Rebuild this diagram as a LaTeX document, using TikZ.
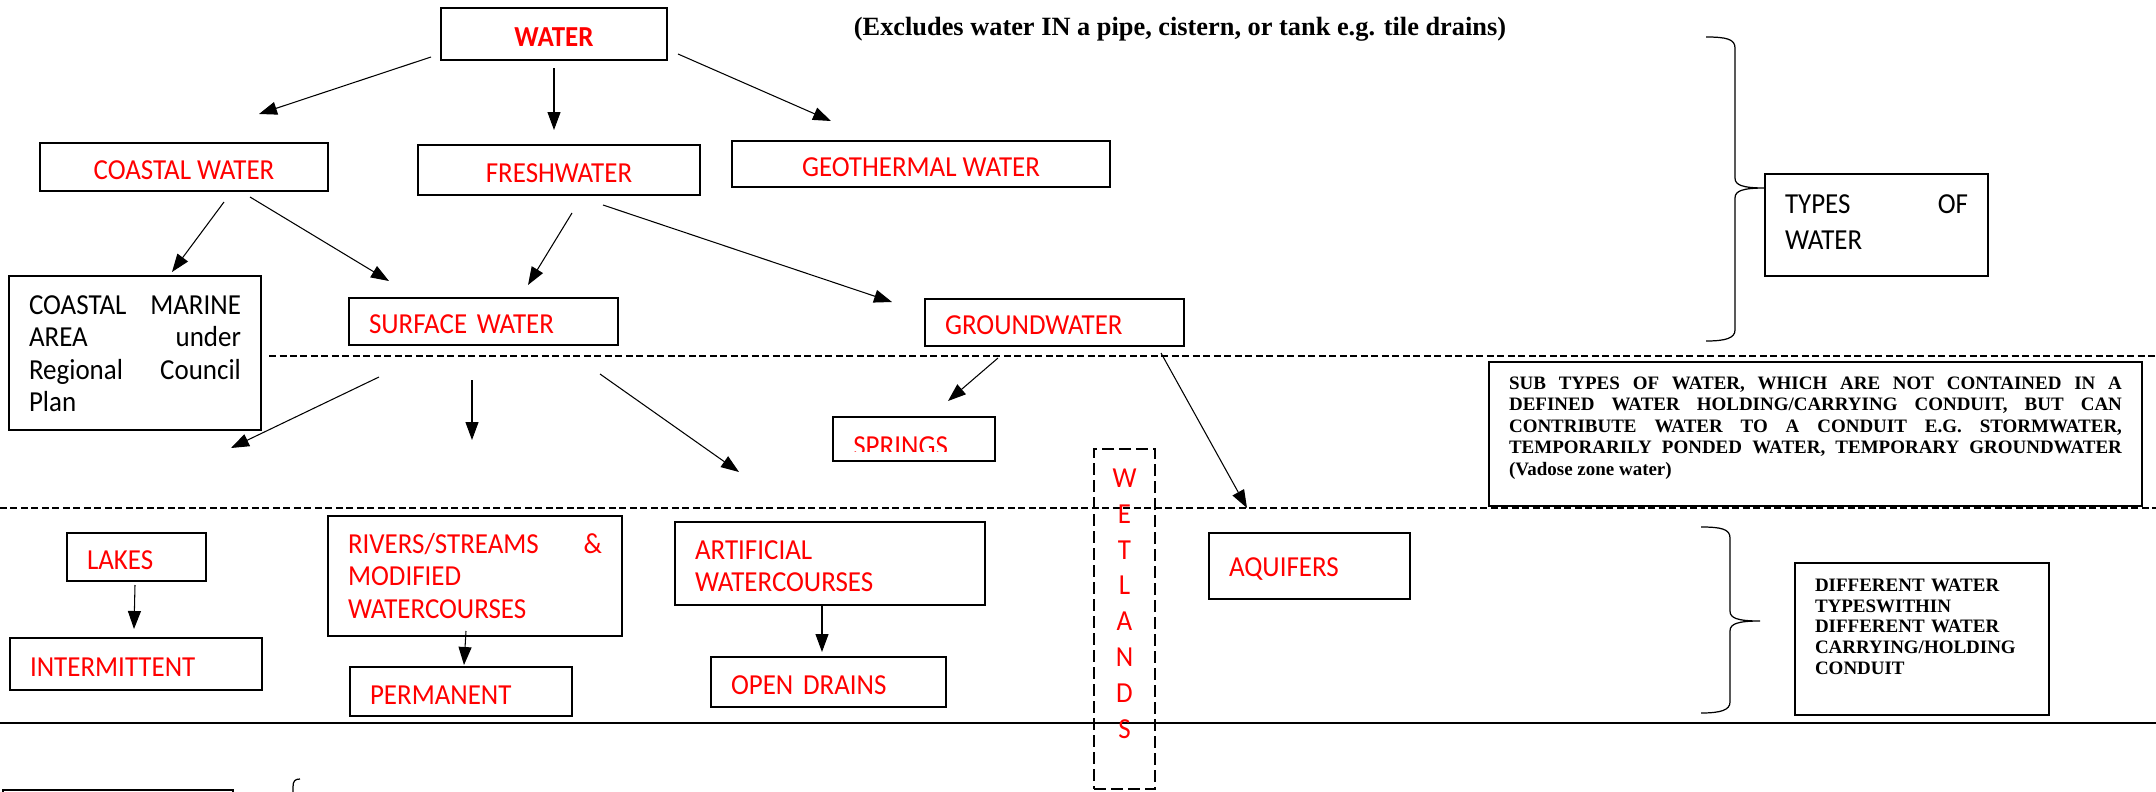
\documentclass[tikz,border=0pt]{standalone}
\usepackage{fontspec}
\setmainfont{Carlito}[FakeStretch=0.93]
\newfontfamily\notefont{Liberation Serif}
\usepackage{tikz}
\usetikzlibrary{arrows.meta}
\newcommand{\wfill}{\hspace{0pt plus 1filll}}
\tolerance=10000
\hyphenpenalty=10000

\begin{document}
\begin{tikzpicture}[
    x=0.02cm, y=-0.02cm,
    box/.style={rectangle, draw, line width=0.9pt, inner xsep=0.4cm, inner ysep=0pt,
                text=red, align=left, text height=0.5cm,
                font=\fontsize{16.5}{18.5}\selectfont},
    notebox/.style={rectangle, draw, line width=0.9pt, inner xsep=0.4cm, inner ysep=0pt,
                align=justify, font=\notefont\bfseries\fontsize{10.8}{12.2}\selectfont},
    arr/.style={-{Triangle[length=0.36cm, width=0.26cm]}, line width=0.6pt},
    sep/.style={dash pattern=on 0.14cm off 0.07cm, line width=0.6pt},
    curly/.style={line width=0.7pt},
]
    \useasboundingbox (0,0) rectangle (2156,791);
    \clip (0,0) rectangle (2156,791);

    % separators
    \draw[sep] (269,356) -- (2156,356);
    \draw[sep] (0,508) -- (2156,508);
    \draw[line width=0.8pt] (0,723) -- (2156,723);

    % types of water
    \node[box, font=\bfseries\fontsize{16.5}{18.5}\selectfont, align=center,
          minimum width=4.52cm, minimum height=1.04cm] (water) at (554,34) {WATER};
    \node[anchor=base, font=\notefont\bfseries\fontsize{15}{18}\selectfont] (excl) at (1180,35)
        {(Excludes water IN a pipe, cistern, or tank e.g. tile drains)};
    \node[box, align=center, minimum width=5.76cm, minimum height=0.96cm] (coastal) at (184,167) {COASTAL WATER};
    \node[box, align=center, minimum width=5.64cm, minimum height=1.0cm] (fresh) at (559,170) {FRESHWATER};
    \node[box, align=center, minimum width=7.56cm, minimum height=0.92cm] (geo) at (921,164) {GEOTHERMAL WATER};

    \node[box, text=black, text width=4.24cm, minimum width=5.04cm, text height=0.767cm, text depth=2.313cm] (marine) at (135,353)
        {COASTAL\wfill MARINE\\ AREA\wfill under\\ Regional\wfill Council\\ Plan};
    \node[box, text width=4.58cm, minimum width=5.38cm, minimum height=0.94cm] (surface) at (483.5,321.5) {SURFACE WATER};
    \node[box, text width=4.38cm, minimum width=5.18cm, minimum height=0.94cm] (ground) at (1054.5,322.5) {GROUNDWATER};

    \node[box, text=black, font=\fontsize{16.5}{20.4}\selectfont, text width=3.66cm,
          minimum width=4.46cm, text height=0.787cm, text depth=1.253cm] (types) at (1876.5,225) {TYPES\wfill OF\\ WATER};
    \draw[curly] (1706,37) .. controls (1726,37) and (1735,39) .. (1735,48) -- (1735,178)
        .. controls (1735,185) and (1742,188) .. (1765,188)
        .. controls (1742,188) and (1735,191) .. (1735,198) -- (1735,330)
        .. controls (1735,338) and (1726,341) .. (1706,341);

    % sub types
    \node[box, minimum width=3.24cm, minimum height=0.88cm] (springs) at (914,439) {};
    \begin{scope}
        \clip (835,419) rectangle (993,451);
        \node[anchor=base west, inner sep=0pt, text=red, font=\fontsize{16.5}{18.5}\selectfont] (springs-t) at (853,455) {SPRINGS};
    \end{scope}
    \node[notebox, text width=12.26cm, minimum width=13.06cm, text height=0.55cm, text depth=2.33cm] (subtypes) at (1815.5,434)
        {SUB TYPES OF WATER, WHICH ARE NOT CONTAINED IN A\linebreak
         DEFINED WATER HOLDING/CARRYING CONDUIT, BUT CAN\linebreak
         CONTRIBUTE WATER TO A CONDUIT E.G. STORMWATER,\linebreak
         TEMPORARILY PONDED WATER, TEMPORARY GROUNDWATER\linebreak
         (Vadose zone water)};

    \node[box, dash pattern=on 0.24cm off 0.1cm, align=center, text width=0.5cm, inner xsep=0.36cm,
          minimum width=1.22cm, font=\fontsize{16.5}{20.4}\selectfont,
          text height=0.767cm, text depth=6.033cm] (wetlands) at (1124.5,619) {W\\E\\T\\L\\A\\N\\D\\S};

    % conduits
    \node[box, text width=3.22cm, minimum width=4.02cm, minimum height=1.32cm] (aquifers) at (1309.5,566) {AQUIFERS};
    \node[box, text width=1.98cm, minimum width=2.78cm, minimum height=0.96cm] (lakes) at (136.5,557) {LAKES};
    \node[box, text width=4.24cm, minimum width=5.04cm, minimum height=1.04cm] (intermittent) at (136,664) {INTERMITTENT};
    \node[box, text width=5.08cm, minimum width=5.88cm, text height=0.747cm, text depth=1.653cm] (rivers) at (475,576)
        {RIVERS/STREAMS\wfill\&\\ MODIFIED\\ WATERCOURSES};
    \node[box, text width=3.64cm, minimum width=4.44cm, minimum height=0.98cm] (permanent) at (461,691.5) {PERMANENT};
    \node[box, text width=5.4cm, minimum width=6.2cm, text height=0.747cm, text depth=0.913cm] (artificial) at (830,563.5)
        {ARTIFICIAL\\ WATERCOURSES};
    \node[box, text width=3.9cm, minimum width=4.7cm, minimum height=1.0cm] (opendrains) at (828.5,682) {OPEN DRAINS};

    \node[notebox, align=left, font=\notefont\bfseries\fontsize{10.8}{11.8}\selectfont, text width=4.28cm,
          minimum width=5.08cm, text height=0.57cm, text depth=2.47cm] (different) at (1922,639)
        {DIFFERENT WATER\\ TYPESWITHIN\\ DIFFERENT WATER\\ CARRYING/HOLDING\\ CONDUIT};
    \draw[curly] (1701,527) .. controls (1721,527) and (1730,529) .. (1730,538) -- (1730,611)
        .. controls (1730,618) and (1737,621) .. (1760,621)
        .. controls (1737,621) and (1730,624) .. (1730,631) -- (1730,702)
        .. controls (1730,710) and (1721,713) .. (1701,713);

    % cut off at the bottom
    \node[draw, line width=1.2pt, anchor=north west, minimum width=4.6cm, minimum height=1.2cm] (legend) at (2,789) {};
    \draw[curly] (300,779) .. controls (295,779) and (293,781) .. (293,787) -- (293,800);

    % connector ends
    \coordinate (water-sw) at (431,57);
    \coordinate (coastal-top) at (259,114);
    \coordinate (water-s) at (554,68);
    \coordinate (fresh-top) at (554,130);
    \coordinate (water-se) at (678,54);
    \coordinate (geo-top) at (831,121);
    \coordinate (coastal-sw) at (224,202);
    \coordinate (marine-top) at (172,272);
    \coordinate (coastal-se) at (250,197);
    \coordinate (surface-top1) at (389,281);
    \coordinate (fresh-sw) at (572,213);
    \coordinate (surface-top2) at (528,285);
    \coordinate (fresh-se) at (603,205);
    \coordinate (ground-top) at (892,302);
    \coordinate (ground-sw) at (998,358);
    \coordinate (springs-top) at (948,401);
    \coordinate (ground-se) at (1161,353);
    \coordinate (aquifers-top) at (1247,508);
    \coordinate (surface-a) at (379,377);
    \coordinate (surface-a-end) at (231,448);
    \coordinate (surface-b) at (472,380);
    \coordinate (surface-b-end) at (472,440);
    \coordinate (surface-c) at (600,374);
    \coordinate (surface-c-end) at (739,472);
    \coordinate (lakes-s) at (135,585);
    \coordinate (intermittent-top) at (134,629);
    \coordinate (rivers-s) at (466,631);
    \coordinate (permanent-top) at (464,665);
    \coordinate (artificial-s) at (822,606);
    \coordinate (opendrains-top) at (822,652);

    \draw[arr] (water-sw) -- (coastal-top);
    \draw[arr] (water-s) -- (fresh-top);
    \draw[arr] (water-se) -- (geo-top);
    \draw[arr] (coastal-sw) -- (marine-top);
    \draw[arr] (coastal-se) -- (surface-top1);
    \draw[arr] (fresh-sw) -- (surface-top2);
    \draw[arr] (fresh-se) -- (ground-top);
    \draw[arr] (ground-sw) -- (springs-top);
    \draw[arr] (ground-se) -- (aquifers-top);
    \draw[arr] (surface-a) -- (surface-a-end);
    \draw[arr] (surface-b) -- (surface-b-end);
    \draw[arr] (surface-c) -- (surface-c-end);
    \draw[arr] (lakes-s) -- (intermittent-top);
    \draw[arr] (rivers-s) -- (permanent-top);
    \draw[arr] (artificial-s) -- (opendrains-top);
\end{tikzpicture}
\end{document}
